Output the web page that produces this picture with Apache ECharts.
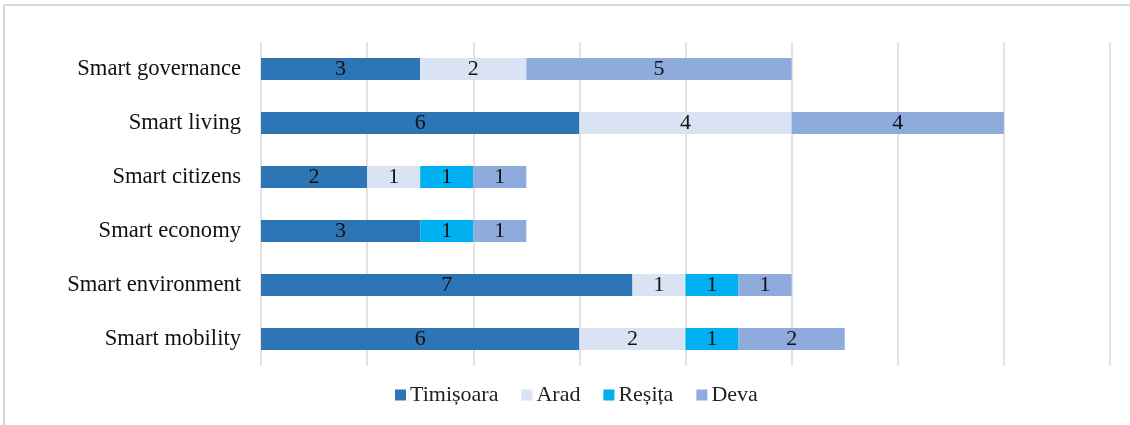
<!DOCTYPE html>
<html><head><meta charset="utf-8">
<script src="https://cdn.jsdelivr.net/npm/echarts@6/dist/echarts.min.js"></script>
<style>
html,body{margin:0;padding:0;background:#fff;}
#frame{position:absolute;left:3px;top:4px;width:1140px;height:440px;border:2px solid #d9d9d9;box-sizing:border-box;}
#c{position:absolute;left:0;top:0;width:1130px;height:425px;}
</style></head><body>
<div id="frame"></div>
<div id="c"></div>
<script>
const categories = ['Smart governance','Smart living','Smart citizens','Smart economy','Smart environment','Smart mobility'];
const timisoara = [3,6,2,3,7,6];
const arad = [2,4,1,null,1,2];
const resita = [null,null,1,1,1,1];
const deva = [5,4,1,1,1,2];
const seriesNames = ['Timișoara','Arad','Reșița','Deva'];
const colors = ['#2E75B6','#DAE3F3','#00B0F0','#8FAADC'];
const font = '"Liberation Serif","Times New Roman",serif';
const chart = echarts.init(document.getElementById('c'));
const mk = (name, data, color) => ({
  name, type:'bar', stack:'s', data, barWidth:22,
  itemStyle:{color},
  label:{show:true, position:'inside', color:'#111', fontFamily:font, fontSize:22},
  emphasis:{disabled:true}
});
chart.setOption({
  animation:false,
  grid:{left:261, right:20, top:42, bottom:59},
  legend:{bottom:14, left:390, itemWidth:11, itemHeight:11, itemGap:23,
    icon:'rect', textStyle:{fontFamily:font, fontSize:22, color:'#222', padding:[0,0,0,-1]}, data:seriesNames},
  xAxis:{type:'value', min:0, max:16, interval:2, axisLabel:{show:false},
    splitLine:{lineStyle:{color:'#d9d9d9', width:1.5}}, axisLine:{show:false}, axisTick:{show:false}},
  yAxis:{type:'category', inverse:true, data:categories,
    axisLine:{show:false}, axisTick:{show:false},
    axisLabel:{fontFamily:font, fontSize:22.6, color:'#111', margin:20}},
  series:[mk(seriesNames[0],timisoara,colors[0]), mk(seriesNames[1],arad,colors[1]), mk(seriesNames[2],resita,colors[2]), mk(seriesNames[3],deva,colors[3])]
});
</script></body></html>
